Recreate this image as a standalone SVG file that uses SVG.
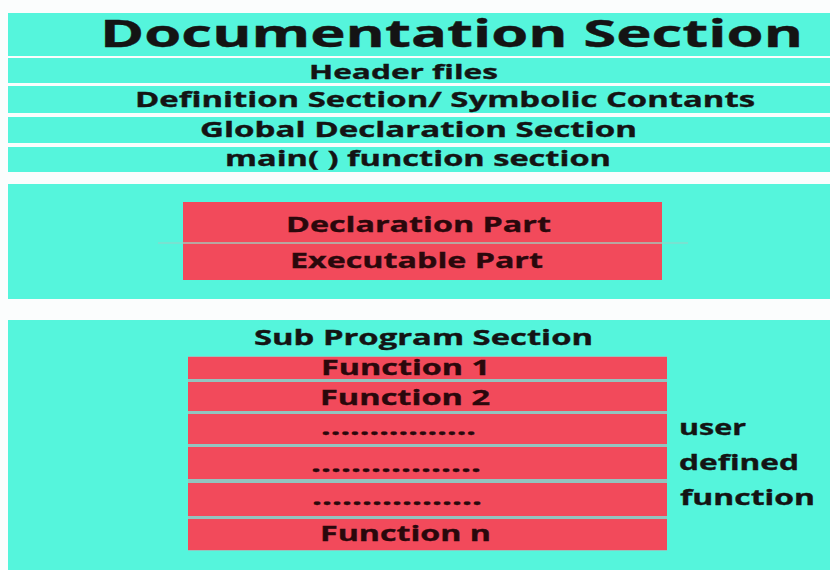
<svg xmlns="http://www.w3.org/2000/svg" width="830" height="570" viewBox="0 0 830 570">
<style>
.band{fill:#55f5dc}
.red{fill:#f24a5b}
.gap{fill:#93c4bf}
.t{font-family:"Open Sans","Liberation Sans",sans-serif;font-weight:700;fill:#141414;stroke:#141414;stroke-width:0.35}
.rt{font-family:"Open Sans","Liberation Sans",sans-serif;font-weight:700;fill:#2a080c;stroke:#2a080c;stroke-width:0.35}
</style>
<rect width="830" height="570" fill="#fbfdfd"/>
<g id="documentation">
<rect class="band" x="8" y="13" width="822" height="43"/>
<text class="t" x="100" y="47" font-size="37" textLength="703" lengthAdjust="spacingAndGlyphs" stroke-width="0.6">Documentation Section</text>
</g>
<g id="header-files">
<rect class="band" x="8" y="58" width="822" height="25"/>
<text class="t" x="309" y="79" font-size="20" textLength="189" lengthAdjust="spacingAndGlyphs">Header files</text>
</g>
<g id="definition">
<rect class="band" x="8" y="86" width="822" height="27"/>
<text class="t" x="135" y="107" font-size="21" textLength="620" lengthAdjust="spacingAndGlyphs">Definition Section/ Symbolic Contants</text>
</g>
<g id="global">
<rect class="band" x="8" y="117" width="822" height="26"/>
<text class="t" x="200" y="137" font-size="21" textLength="437" lengthAdjust="spacingAndGlyphs">Global Declaration Section</text>
</g>
<g id="main-section">
<rect class="band" x="8" y="147" width="822" height="25"/>
<text class="t" x="225" y="166" font-size="21" textLength="386" lengthAdjust="spacingAndGlyphs">main( ) function section</text>
</g>
<g id="main-body">
<rect class="band" x="8" y="184" width="822" height="115"/>
<line x1="158" y1="243" x2="688" y2="243" stroke="#9ccfc6" stroke-width="1"/>
<g id="declaration-part">
<rect class="red" x="183" y="202" width="479" height="40"/>
<text class="rt" x="286" y="232" font-size="22" textLength="265" lengthAdjust="spacingAndGlyphs">Declaration Part</text>
</g>
<rect x="183" y="242" width="479" height="2" fill="#b9a6a0"/>
<g id="executable-part">
<rect class="red" x="183" y="244" width="479" height="36"/>
<text class="rt" x="290" y="268" font-size="22" textLength="253" lengthAdjust="spacingAndGlyphs">Executable Part</text>
</g>
</g>
<g id="sub-program">
<rect class="band" x="8" y="320" width="822" height="250"/>
<text class="t" x="254" y="345" font-size="21" textLength="339" lengthAdjust="spacingAndGlyphs">Sub Program Section</text>
<rect class="gap" x="188" y="356" width="479" height="195"/>
<g id="function-1">
<rect class="red" x="188" y="357" width="479" height="22"/>
<text class="rt" x="321" y="375" font-size="21" textLength="169" lengthAdjust="spacingAndGlyphs">Function 1</text>
</g>
<g id="function-2">
<rect class="red" x="188" y="382" width="479" height="29"/>
<text class="rt" x="320" y="405" font-size="21" textLength="170" lengthAdjust="spacingAndGlyphs">Function 2</text>
</g>
<g id="dots-1">
<rect class="red" x="188" y="414" width="479" height="30"/>
<text class="rt" x="321" y="435" font-size="21" textLength="155" lengthAdjust="spacingAndGlyphs">................</text>
</g>
<g id="dots-2">
<rect class="red" x="188" y="447" width="479" height="32"/>
<text class="rt" x="311" y="472" font-size="21" textLength="170" lengthAdjust="spacingAndGlyphs">.................</text>
</g>
<g id="dots-3">
<rect class="red" x="188" y="483" width="479" height="33"/>
<text class="rt" x="312" y="505" font-size="21" textLength="170" lengthAdjust="spacingAndGlyphs">.................</text>
</g>
<g id="function-n">
<rect class="red" x="188" y="519" width="479" height="31"/>
<text class="rt" x="320" y="541" font-size="21" textLength="171" lengthAdjust="spacingAndGlyphs">Function n</text>
</g>
<g id="user-defined-label">
<text class="t" x="679" y="435" font-size="21" textLength="67" lengthAdjust="spacingAndGlyphs">user</text>
<text class="t" x="679" y="470" font-size="21" textLength="120" lengthAdjust="spacingAndGlyphs">defined</text>
<text class="t" x="680" y="505" font-size="21" textLength="135" lengthAdjust="spacingAndGlyphs">function</text>
</g>
</g>
</svg>
